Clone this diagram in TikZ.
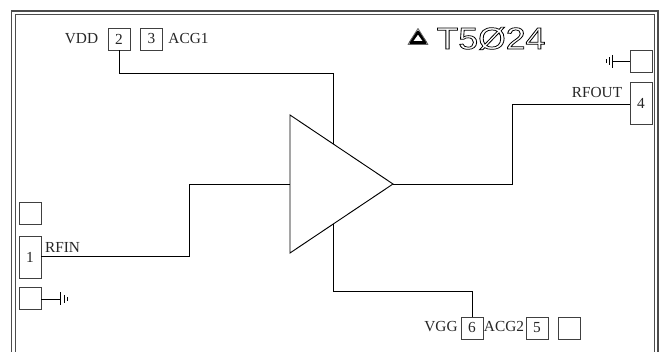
\documentclass[tikz,border=0pt]{standalone}
\usepackage{fontspec}
\setmainfont{Liberation Serif}
\newfontfamily\logofont{Liberation Sans}
\tikzset{
  wire/.style={draw=black,line width=0.7pt},
  pad/.style={draw=black!75,line width=0.7pt,fill=white,minimum width=16.5pt,minimum height=16.5pt,inner sep=0pt,font=\fontsize{11.5}{12}\selectfont,text=black!85},
  tallpad/.style={pad,minimum height=31.5pt},
  lbl/.style={inner sep=0pt,font=\fontsize{11.5}{12}\selectfont,text=black!85},
  frameline/.style={draw=black!70,line width=0.9pt},
  gnd/.style={draw=black,line width=0.6pt}
}
\begin{document}
\begin{tikzpicture}[x=0.75pt,y=-0.75pt]
\useasboundingbox (0,0) rectangle (661,352);
\clip (0,0) rectangle (661,352);
% frame
\draw[frameline] (11.5,353) -- (11.5,11) -- (658,11) -- (658,353);
\draw[frameline] (15.5,353) -- (15.5,14.5) -- (654.5,14.5) -- (654.5,353);
% pads
\node[pad] (p2) at (119,39) {2};
\node[pad] (p3) at (151.5,39) {3};
\node[pad] (gndR) at (641,61.5) {};
\node[tallpad] (p4) at (641,103) {4};
\node[pad] (padL) at (30,213.5) {};
\node[tallpad] (p1) at (30,257) {1};
\node[pad] (gndL) at (30,298.5) {};
\node[pad] (p6) at (472,328) {6};
\node[pad] (p5) at (537,328) {5};
\node[pad] (padB) at (569.5,328) {};
% amplifier
\coordinate (ta) at (290,115);
\coordinate (tb) at (290,253);
\coordinate (tip) at (393,184);
\coordinate (inp) at (290,184.5);
\coordinate (topj) at (333,144);
\coordinate (botj) at (333,224);
\draw[wire] (ta) -- (tb) -- (tip) -- cycle;
% connectors
\draw[wire] (p1.east |- 0,256.5) -- (189,256.5) -- (189,184.5) -- (inp);
\draw[wire] (p2.south) -- (119,73.5) -- (333,73.5) -- (topj);
\draw[wire] (botj) -- (333,291.5) -- (472,291.5) -- (p6.north);
\draw[wire] (393,184.5) -- (512,184.5) -- (512,104.5) -- (p4.west |- 0,104.5);
% grounds
\coordinate (gr) at (612,61.5);
\coordinate (gl) at (60,299);
\draw[gnd] (gndR.west) -- (gr);
\draw[gnd] (612,55) -- (612,68);
\draw[gnd] (609,57.5) -- (609,65.5);
\draw[gnd] (606,59.5) -- (606,63.5);
\draw[gnd] (gndL.east |- gl) -- (gl);
\draw[gnd] (60,292.5) -- (60,305.5);
\draw[gnd] (64,295) -- (64,303);
\draw[gnd] (67,297) -- (67,301);
% labels
\node[lbl] (vdd) at (81.5,39) {VDD};
\node[lbl] (acg1) at (188.5,39) {ACG1};
\node[lbl] (rfout) at (597,93) {RFOUT};
\node[lbl] (rfin) at (62.5,247) {RFIN};
\node[lbl] (vgg) at (441,327) {VGG};
\node[lbl] (acg2) at (504,327) {ACG2};
% logo
\draw[draw=black,line width=2.2pt,line join=round] (418,32) -- (425.5,42.5) -- (410.5,42.5) -- cycle;
\draw[draw=black!60,line width=0.6pt,line join=round] (418,28.5) -- (428,44.5) -- (408,44.5) -- cycle;
\node[inner sep=0pt,xscale=1.16] (title) at (491,38.5) {\logofont\fontsize{23}{24}\selectfont\special{pdf:literal direct 1 Tr 0.55 w}T5Ø24\special{pdf:literal direct 0 Tr}};
\end{tikzpicture}
\end{document}
